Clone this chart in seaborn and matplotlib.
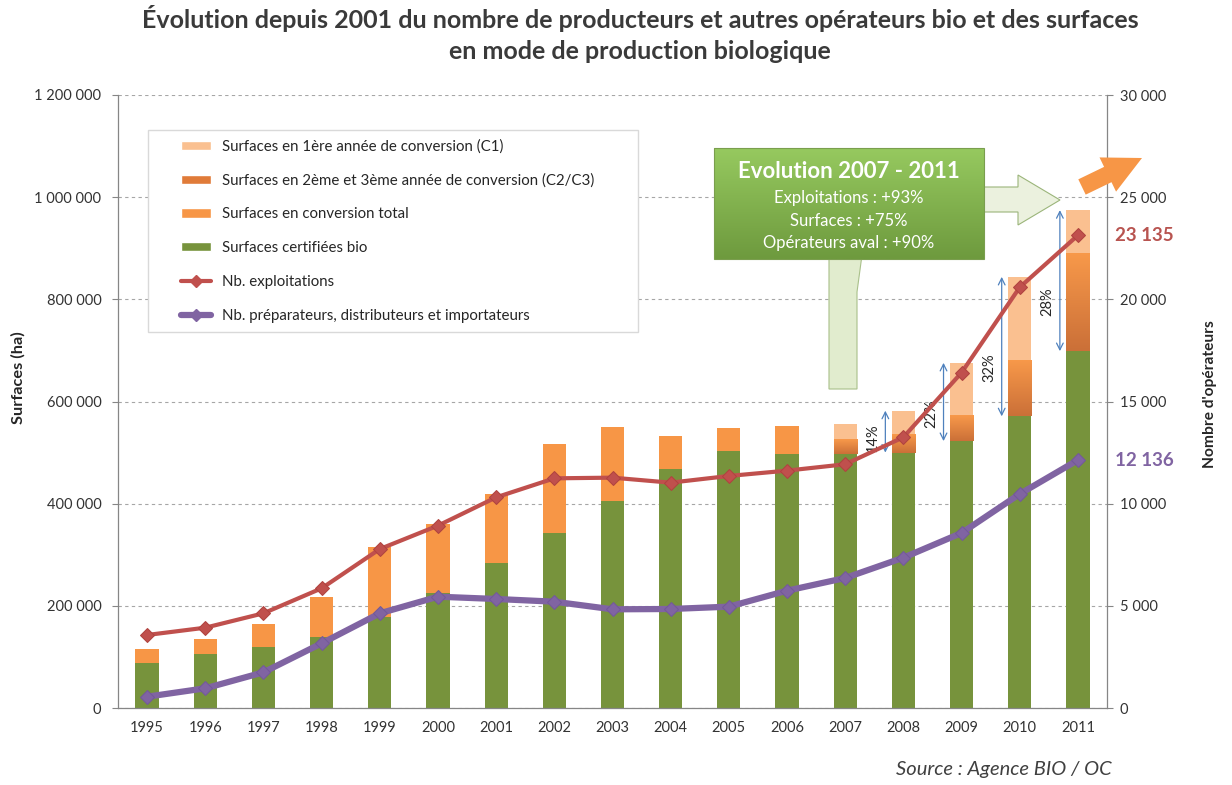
import numpy as np
import matplotlib
matplotlib.use('Agg')
import matplotlib.pyplot as plt
import seaborn as sns
from matplotlib.patches import Rectangle, Polygon, FancyArrow, Patch
from matplotlib.lines import Line2D
from matplotlib.colors import LinearSegmentedColormap
from matplotlib.ticker import FuncFormatter

years = [str(y) for y in range(1995, 2012)]
certifiees = [88600, 105700, 120000, 139500, 178700, 225000, 284000, 342000, 405600,
              467000, 503500, 497700, 497000, 500000, 522500, 571000, 698600]
# conversion sans detail C1 / C2-C3 (1995-2006)
conv_total = [26900, 29300, 44000, 78500, 136300, 135000, 135000, 175000, 144400,
              66000, 45000, 54300]
# 2007-2011 : conversion detaillee
conv_c2c3 = [29000, 37000, 50200, 111000, 192400]
conv_c1 = [30000, 45000, 103000, 162000, 83600]
exploitations = [3573, 3930, 4634, 5857, 7780, 8925, 10310, 11240, 11273, 11028,
                 11356, 11617, 11928, 13250, 16413, 20590, 23135]
operateurs = [553, 963, 1746, 3165, 4634, 5448, 5335, 5203, 4830, 4845, 4960,
              5742, 6363, 7357, 8566, 10475, 12136]
pct_labels = ['14%', '22%', '32%', '28%']   # part en conversion 2008-2011

evol_lines = ['Exploitations : +93%', 'Surfaces : +75%', 'Opérateurs aval : +90%']

GREEN = '#77933C'
ORANGE = '#F79646'
C1_COL = '#FAC090'
RED = '#C0504D'
PURPLE = '#8064A2'
TXT = '#333333'

sns.set_style('white')
plt.rcParams['font.family'] = ['Lato', 'DejaVu Sans']

fig = plt.figure(figsize=(12.32, 7.85), dpi=100)
ax = fig.add_axes([118 / 1232, 77 / 785, 989 / 1232, 613 / 785])
ax2 = ax.twinx()

n_old = len(conv_total)
cert = np.array(certifiees)
top_old = cert[:n_old] + np.array(conv_total)
c2_top = cert[n_old:] + np.array(conv_c2c3)
c1_top = c2_top + np.array(conv_c1)

bar_kw = dict(order=years, width=0.4, saturation=1, linewidth=0, errorbar=None, ax=ax)
sns.barplot(x=years[:n_old], y=top_old, color=ORANGE, zorder=2, **bar_kw)
sns.barplot(x=years[n_old:], y=c1_top, color=C1_COL, zorder=2, **bar_kw)
n0 = len(ax.patches)
sns.barplot(x=years[n_old:], y=c2_top, color='#E8843F', zorder=2.1, **bar_kw)
c2_patches = [p for p in ax.patches[n0:] if np.isfinite(p.get_height()) and p.get_height() > 0]

# degrade sur les surfaces C2/C3
grad = np.linspace(0, 1, 64).reshape(-1, 1)
cmap_c23 = LinearSegmentedColormap.from_list('c23', ['#F8994A', '#CB7038'])
for p in c2_patches:
    i = int(round(p.get_x() + p.get_width() / 2))
    im = ax.imshow(grad, cmap=cmap_c23, aspect='auto', origin='upper', zorder=2.2,
                   extent=(p.get_x(), p.get_x() + p.get_width(), cert[i], c2_top[i - n_old]))
    im.set_clip_path(p)

sns.barplot(x=years, y=certifiees, color=GREEN, zorder=2.3, **bar_kw)

pos = np.arange(len(years))
sns.lineplot(x=pos, y=exploitations, ax=ax2, color=RED, linewidth=3, marker='D',
             markersize=7, markeredgecolor='#B0433F', zorder=3)
sns.lineplot(x=pos, y=operateurs, ax=ax2, color=PURPLE, linewidth=4.5, marker='D',
             markersize=7, markeredgecolor='#73599A', zorder=3)

# fleches de part en conversion
for k, lab in enumerate(pct_labels):
    i = n_old + 1 + k
    xa = i - 0.31
    lo, hi = cert[i], c1_top[i - n_old]
    ax.annotate('', xy=(xa, hi), xytext=(xa, lo), zorder=4,
                arrowprops=dict(arrowstyle='<->', color='#4F81BD', lw=0.9,
                                shrinkA=0, shrinkB=0, mutation_scale=12))
    ax.text(xa - 0.21, lo + 0.35 * (hi - lo), lab, rotation=90, ha='center', va='center',
            fontsize=10.5, color='#262626', zorder=4)

# axes
ax.set_xlim(-0.5, 16.5)
ax.set_ylim(0, 1200000)
ax2.set_ylim(0, 30000)
ax.set_xlabel('')
ax.set_ylabel('')
ax2.set_xlabel('')
ax2.set_ylabel('')
ax.set_xticks(pos)
ax.set_xticklabels(years)
ax.set_xticks(np.arange(-0.5, 17, 1), minor=True)
ax.set_yticks(np.arange(0, 1200001, 200000))
ax2.set_yticks(np.arange(0, 30001, 5000))
fmt = FuncFormatter(lambda v, p: f'{int(v):,}'.replace(',', ' '))
ax.yaxis.set_major_formatter(fmt)
ax2.yaxis.set_major_formatter(fmt)
ax.tick_params(axis='x', which='major', length=0, pad=9, labelsize=10.5, labelcolor=TXT)
ax.tick_params(axis='x', which='minor', length=4, color='#868686', direction='out')
ax.tick_params(axis='y', length=4, pad=8, color='#868686', labelsize=10.5, labelcolor=TXT,
               direction='out', left=True)
ax2.tick_params(axis='y', length=4, pad=5, color='#868686', labelsize=10.5, labelcolor=TXT,
                direction='out', right=True)
ax.yaxis.grid(True, linestyle=(0, (3, 3)), color='#A6A6A6', linewidth=0.8)
ax.set_axisbelow(True)
ax2.grid(False)
for s in ['top', 'right']:
    ax.spines[s].set_visible(False)
for s in ['top', 'left', 'bottom']:
    ax2.spines[s].set_visible(False)
for sp in [ax.spines['left'], ax.spines['bottom'], ax2.spines['right']]:
    sp.set_color('#868686')
    sp.set_linewidth(0.9)

# valeurs 2011
ax2.text(16.64, exploitations[-1], f'{exploitations[-1]:,}'.replace(',', ' '), color='#B85450',
         fontsize=13.5, fontweight='bold', ha='left', va='center', clip_on=False)
ax2.text(16.64, operateurs[-1], f'{operateurs[-1]:,}'.replace(',', ' '), color=PURPLE,
         fontsize=13.5, fontweight='bold', ha='left', va='center', clip_on=False)

# textes de la figure
fig.text(640 / 1232, 1 - 5 / 785,
         'Évolution depuis 2001 du nombre de producteurs et autres opérateurs bio et des surfaces\n'
         'en mode de production biologique',
         ha='center', va='top', fontsize=18, fontweight='bold', color='#3A3A3A', linespacing=1.4)
fig.text(18 / 1232, 1 - 378 / 785, 'Surfaces (ha)', rotation=90, ha='center', va='center',
         fontsize=11.8, fontweight='bold', color='#262626')
fig.text(1210 / 1232, 1 - 394 / 785, "Nombre d'opérateurs", rotation=90, ha='center', va='center',
         fontsize=11.2, fontweight='bold', color='#262626')
fig.text(1112 / 1232, 1 - 770 / 785, 'Source : Agence BIO / OC', ha='right', va='center',
         fontsize=14.5, style='italic', color='#404040')

# calque d'annotations en pixels
ov = fig.add_axes([0, 0, 1, 1], zorder=10)
ov.axis('off')

ov.add_patch(Rectangle((148, 130), 490, 202, facecolor='white', edgecolor='#D9D9D9', lw=1, zorder=1))
handles = [Patch(facecolor=C1_COL), Patch(facecolor='#E07B39'), Patch(facecolor=ORANGE),
           Patch(facecolor=GREEN),
           Line2D([], [], color=RED, lw=3, marker='D', markersize=6),
           Line2D([], [], color=PURPLE, lw=4.5, marker='D', markersize=6)]
labels = ['Surfaces en 1ère année de conversion (C1)',
          'Surfaces en 2ème et 3ème année de conversion (C2/C3)',
          'Surfaces en conversion total', 'Surfaces certifiées bio',
          'Nb. exploitations', 'Nb. préparateurs, distributeurs et importateurs']
ov.legend(handles, labels, loc='upper left', bbox_to_anchor=(181, 139), bbox_transform=ov.transData,
          frameon=False, borderpad=0, borderaxespad=0, fontsize=10.8, handlelength=2.0,
          handleheight=0.55, handletextpad=0.7, labelspacing=1.32, labelcolor='#262626')

# fleches vertes et encadre
ov.add_patch(Polygon([(984, 187), (1018, 187), (1018, 175), (1060, 200), (1018, 225), (1018, 212),
                      (984, 212)], closed=True, facecolor='#EBF1DE', edgecolor='#9BB57A', lw=0.8, zorder=2))
ov.add_patch(Polygon([(829, 255), (829, 389), (857, 389), (857, 292), (862, 255)], closed=True,
                     facecolor='#E1ECCE', edgecolor='#A9C08A', lw=0.8, zorder=2))
cmap_box = LinearSegmentedColormap.from_list('box', ['#96C95F', '#6E9A3E'])
ov.imshow(grad, cmap=cmap_box, aspect='auto', origin='upper', extent=(714, 984, 259, 148), zorder=3)
ov.add_patch(Rectangle((714, 148), 270, 111, fill=False, edgecolor='#7A9E4E', lw=0.8, zorder=4))
ov.text(849, 172, 'Evolution 2007 - 2011', ha='center', va='center', color='white',
        fontsize=16, fontweight='bold', zorder=5)
for k, t in enumerate(evol_lines):
    ov.text(849, 198 + 22.5 * k, t, ha='center', va='center', color='white', fontsize=12, zorder=5)

ov.add_patch(FancyArrow(1082, 187, 60, -29, width=17, head_width=38, head_length=38,
                        length_includes_head=True, facecolor=ORANGE, edgecolor='none', zorder=5))

ov.set_xlim(0, 1232)
ov.set_ylim(785, 0)

fig.savefig('out.png', dpi=100)
